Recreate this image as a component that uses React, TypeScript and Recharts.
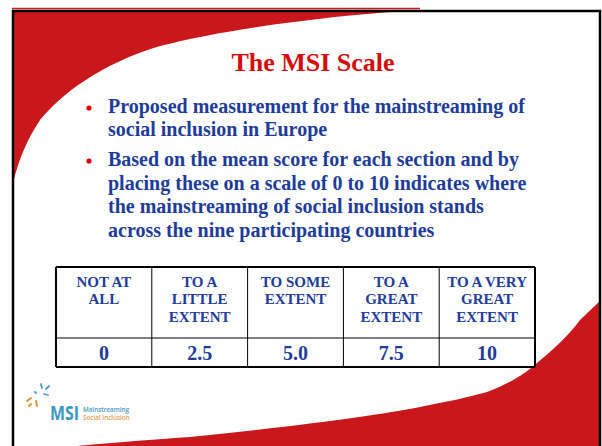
import React from 'react';
import { ComposedChart, Scatter, XAxis, YAxis, ReferenceLine } from 'recharts';

// slide text
const titleText = 'The MSI Scale';
const bulletOne = ['Proposed measurement for the mainstreaming of', 'social inclusion in Europe'];
const bulletTwo = [
  'Based on the mean score for each section and by',
  'placing these on a scale of 0 to 10 indicates where',
  'the mainstreaming of social inclusion stands',
  'across the nine participating countries',
];

// the scale table
const levelLabels = [
  ['NOT AT', 'ALL'],
  ['TO A', 'LITTLE', 'EXTENT'],
  ['TO SOME', 'EXTENT'],
  ['TO A', 'GREAT', 'EXTENT'],
  ['TO A VERY', 'GREAT', 'EXTENT'],
];
const scores = [0, 2.5, 5, 7.5, 10];
const scoreLabels = ['0', '2.5', '5.0', '7.5', '10'];

const SERIF = "'Liberation Serif', 'Times New Roman', serif";
const BLUE = '#1d3c9a';
const RED = '#c9171b';

const half = (scores[1] - scores[0]) / 2;
const columnEdges = [...scores.map((s) => s - half), scores[scores.length - 1] + half];
// header row sits at the top of the plot (y=100), values in the bottom row
const headerPoints = scores.map((s, i) => ({ score: s, row: 100, lines: levelLabels[i] }));
const valuePoints = scores.map((s, i) => ({ score: s, row: 14.5, label: scoreLabels[i] }));

const HeaderCell = (props: any) => {
  const { cx, cy, payload } = props;
  return (
    <text x={cx} textAnchor="middle" fontFamily={SERIF} fontWeight="bold" fontSize={15} fill={BLUE}>
      {payload.lines.map((l: string, i: number) => (
        <tspan key={i} x={cx} y={cy + 19.5 + i * 17.5}>
          {l}
        </tspan>
      ))}
    </text>
  );
};

const ValueCell = (props: any) => {
  const { cx, cy, payload } = props;
  return (
    <text x={cx} y={cy + 7.5} textAnchor="middle" fontFamily={SERIF} fontWeight="bold" fontSize={20} fill={BLUE}>
      {payload.label}
    </text>
  );
};

const Backdrop = () => (
  <svg width={602} height={446} style={{ position: 'absolute', left: 0, top: 0 }}>
    <rect width={602} height={446} fill="#fff" />
    {/* top-left swoosh */}
    <path d="M13,10 L415,10 C330,16 230,28 160,46 C100,64 60,95 40,120 C28,138 18,160 13,184 Z" fill={RED} />
    <line x1={12} y1={8.5} x2={420} y2={8.5} stroke={RED} strokeWidth={1.5} />
    {/* bottom-right swoosh */}
    <path
      d="M77,446 C120,442 160,439 190,437 C300,426 380,415 420,407 C450,401 470,397 487,392 C510,383 525,374 537,363 C555,348 570,334 580,320 L601,300 L601,446 Z"
      fill={RED}
    />
    {/* slide frame */}
    <path d="M13,446 L13,11 L600,11 L600,446" fill="none" stroke="#000" strokeWidth={2.5} />

    {/* title and bullets */}
    <text x={313} y={71} textAnchor="middle" fontFamily={SERIF} fontWeight="bold" fontSize={26} fill="#d40c0c">
      {titleText}
    </text>
    <circle cx={89} cy={108} r={2.6} fill="#e00000" />
    <text fontFamily={SERIF} fontWeight="bold" fontSize={20} fill={BLUE}>
      {bulletOne.map((l, i) => (
        <tspan key={i} x={108} y={113 + i * 23}>
          {l}
        </tspan>
      ))}
    </text>
    <circle cx={89} cy={161} r={2.6} fill="#e00000" />
    <text fontFamily={SERIF} fontWeight="bold" fontSize={20} fill={BLUE}>
      {bulletTwo.map((l, i) => (
        <tspan key={i} x={108} y={166 + i * 23.5}>
          {l}
        </tspan>
      ))}
    </text>

    {/* logo */}
    <g stroke="#4a9cc0" strokeWidth={1.8} strokeLinecap="round">
      <line x1={41} y1={384} x2={42} y2={388} />
      <line x1={46} y1={389} x2={49} y2={386} />
      <line x1={44} y1={394} x2={48} y2={395} />
      <line x1={35} y1={392} x2={36} y2={393} />
    </g>
    <g stroke="#e2963a" strokeWidth={2} strokeLinecap="round">
      <line x1={27} y1={401} x2={31} y2={398} />
      <line x1={36} y1={401} x2={37} y2={406} />
      <line x1={29} y1={406} x2={31} y2={404} />
    </g>
    <text x={50} y={420} fontFamily="'Open Sans', sans-serif" fontWeight={700} fontSize={20} textLength={29} lengthAdjust="spacingAndGlyphs" fill="#3b97bf">
      MSI
    </text>
    <text x={83} y={412} fontFamily="'Open Sans', sans-serif" fontWeight={600} fontSize={6.3} fill="#4a9cc0">
      Mainstreaming
    </text>
    <text x={83} y={420} fontFamily="'Open Sans', sans-serif" fontWeight={600} fontSize={6.3} fill="#e2a050">
      Social Inclusion
    </text>
  </svg>
);

const App: React.FC = () => {
  return (
    <div style={{ position: 'absolute', left: 0, top: 0, width: 602, height: 446, overflow: 'hidden' }}>
      <Backdrop />
      <div style={{ position: 'absolute', left: 0, top: 0 }}>
        <ComposedChart width={602} height={446} margin={{ top: 267, right: 67, bottom: 79, left: 56 }}>
          <XAxis
            type="number"
            dataKey="score"
            domain={[columnEdges[0], columnEdges[columnEdges.length - 1]]}
            ticks={scores}
            hide
          />
          <YAxis type="number" dataKey="row" domain={[0, 100]} hide />
          {columnEdges.map((e, i) => (
            <ReferenceLine
              key={'c' + i}
              x={e}
              stroke="#000"
              strokeWidth={i === 0 || i === columnEdges.length - 1 ? 2 : 1}
            />
          ))}
          <ReferenceLine y={29} stroke="#000" strokeWidth={1} />
          <ReferenceLine y={100} stroke="#000" strokeWidth={2} />
          <ReferenceLine y={0} stroke="#000" strokeWidth={2} />
          <Scatter data={headerPoints} dataKey="row" isAnimationActive={false} shape={<HeaderCell />} />
          <Scatter data={valuePoints} dataKey="row" isAnimationActive={false} shape={<ValueCell />} />
        </ComposedChart>
      </div>
    </div>
  );
};

export default App;
